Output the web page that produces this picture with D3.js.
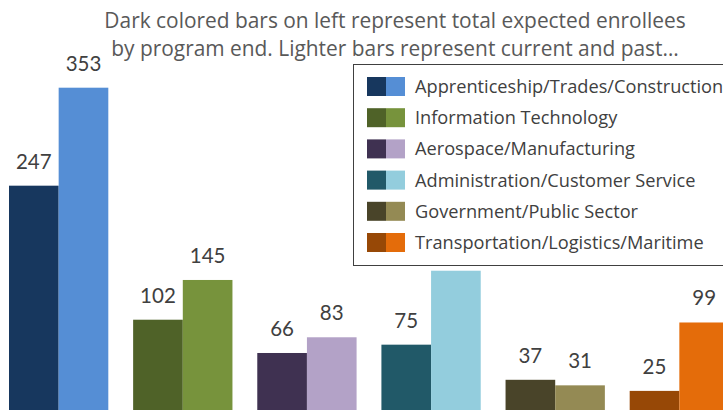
<!DOCTYPE html>
<html>
<head>
<meta charset="utf-8">
<script src="https://cdn.jsdelivr.net/npm/d3@7"></script>
<style>
  html, body { margin: 0; padding: 0; background: #fff; }
  svg { display: block; }
</style>
</head>
<body>
<svg id="chart" width="723" height="410"></svg>
<script>
const categories = [
  "Apprenticeship/Trades/Construction",
  "Information Technology",
  "Aerospace/Manufacturing",
  "Administration/Customer Service",
  "Government/Public Sector",
  "Transportation/Logistics/Maritime"
];
const expectedTotal = [247, 102, 66, 75, 37, 25];
const currentPast = [353, 145, 83, 155, 31, 99];
const darkColors = ["#17375E", "#4F6228", "#3F3151", "#215968", "#494429", "#974806"];
const lightColors = ["#558ED5", "#77933C", "#B3A2C7", "#93CDDD", "#948A54", "#E46C0A"];
const titleLines = [
  "Dark colored bars on left represent total expected enrollees",
  "by program end. Lighter bars represent current and past…"
];

const svg = d3.select("#chart");
const LABEL_FONT = "Lato, 'Open Sans', sans-serif";
const TEXT_FONT = "'Open Sans', Lato, sans-serif";

const x = d3.scaleBand().domain(categories).range([9, 729]).paddingInner(0.2).paddingOuter(0);
const inner = d3.scaleBand().domain(["dark", "light"]).range([0, x.bandwidth()]);
const y = d3.scaleLinear().domain([0, 353]).range([414, 87.7]);

// legend box geometry (drawn on top of the plot, as in the source)
const legendBox = { x: 353.5, y: 64.5, w: 390, h: 201 };

const rows = categories.map((c, i) => ({
  cat: c, i,
  bars: [
    { key: "dark", value: expectedTotal[i], color: darkColors[i] },
    { key: "light", value: currentPast[i], color: lightColors[i] }
  ]
}));

const g = svg.append("g");
const groups = g.selectAll("g.grp").data(rows).join("g")
  .attr("class", "grp")
  .attr("transform", d => `translate(${x(d.cat)},0)`);

groups.selectAll("rect").data(d => d.bars).join("rect")
  .attr("x", d => inner(d.key))
  .attr("width", inner.bandwidth())
  .attr("y", d => y(d.value))
  .attr("height", d => y(0) - y(d.value))
  .attr("fill", d => d.color);

// value labels; a label that sits under the opaque legend box is hidden by it
groups.selectAll("text").data(d => d.bars.map(b => ({ ...b, gx: x(d.cat) })))
  .join("text")
  .filter(d => {
    const cx = d.gx + inner(d.key) + inner.bandwidth() / 2;
    const cy = y(d.value) - 17;
    const hidden = cx > legendBox.x && cx < legendBox.x + legendBox.w &&
                   cy - 15 > legendBox.y && cy < legendBox.y + legendBox.h;
    return !hidden;
  })
  .attr("x", d => inner(d.key) + inner.bandwidth() / 2)
  .attr("y", d => y(d.value) - 17)
  .attr("text-anchor", "middle")
  .attr("font-family", LABEL_FONT)
  .attr("font-size", "20.5px")
  .attr("fill", "#404040")
  .text(d => d.value);
groups.selectAll("text:not([x])").remove();

// Title
svg.selectAll("text.title").data(titleLines).join("text")
  .attr("class", "title")
  .attr("x", 395)
  .attr("y", (d, i) => 28 + i * 27.5)
  .attr("text-anchor", "middle")
  .attr("font-family", TEXT_FONT)
  .attr("font-size", "20.9px")
  .attr("fill", "#595959")
  .text(d => d);

// Legend
const legend = svg.append("g").attr("transform", `translate(${legendBox.x},${legendBox.y})`);
legend.append("rect")
  .attr("width", legendBox.w).attr("height", legendBox.h)
  .attr("fill", "#fff").attr("stroke", "#404040").attr("stroke-width", 1);

const items = legend.selectAll("g.item").data(rows).join("g")
  .attr("class", "item")
  .attr("transform", d => `translate(0,${12.5 + d.i * 31.2})`);
items.append("rect").attr("x", 13.5).attr("width", 19).attr("height", 19)
  .attr("fill", d => darkColors[d.i]);
items.append("rect").attr("x", 32.5).attr("width", 19).attr("height", 19)
  .attr("fill", d => lightColors[d.i]);
items.append("text")
  .attr("x", 61.5).attr("y", 16)
  .attr("font-family", TEXT_FONT)
  .attr("font-size", "18.2px")
  .attr("fill", "#404040")
  .text(d => d.cat);
</script>
</body>
</html>
